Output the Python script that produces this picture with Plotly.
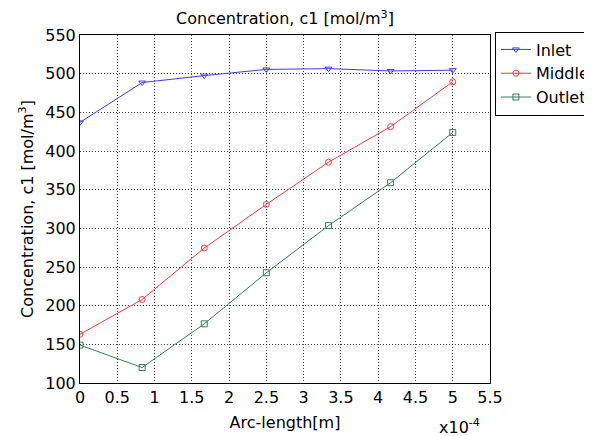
import plotly.graph_objects as go

arc_length = [0.0, 8.333e-5, 1.6667e-4, 2.5e-4, 3.3333e-4, 4.1667e-4, 5.0e-4]
inlet = [437, 488.5, 497.5, 505.5, 506.5, 503.5, 504.5]
middle = [163, 208, 274.5, 331, 385.5, 431.5, 489.5]
outlet = [149, 120, 176.5, 242.5, 303.5, 359, 424]

x_tickvals = [i * 0.5e-4 for i in range(12)]
x_ticktext = ["0", "0.5", "1", "1.5", "2", "2.5", "3", "3.5", "4", "4.5", "5", "5.5"]
y_tickvals = [100, 150, 200, 250, 300, 350, 400, 450, 500, 550]

FONT = "DejaVu Sans"

fig = go.Figure()
series = [
    ("Inlet", inlet, "#3b3bf5", "triangle-down-open"),
    ("Middle", middle, "#ff3b3b", "circle-open"),
    ("Outlet", outlet, "#2e8552", "square-open"),
]
for name, vals, col, sym in series:
    fig.add_trace(go.Scatter(
        x=arc_length, y=vals, name=name, mode="lines+markers",
        line=dict(color=col, width=1),
        marker=dict(symbol=sym, size=6, color=col, line=dict(color=col, width=1)),
    ))

# page body has an 8px default margin; canvas is shrunk so the plot lands where the reference has it
fig.update_layout(
    width=584, height=428,
    margin=dict(l=72, r=102, t=26.5, b=53, autoexpand=False),
    paper_bgcolor="white", plot_bgcolor="white",
    font=dict(family=FONT, size=16, color="black"),
    title=dict(text="Concentration, c1 [mol/m<sup>3</sup>]", xref="paper", x=0.5, xanchor="center",
               yref="container", y=0.975, yanchor="middle", font=dict(family=FONT, size=16, color="black")),
    showlegend=True,
    legend=dict(x=1.012, y=1.01, xanchor="left", yanchor="top",
                bordercolor="black", borderwidth=1, bgcolor="white",
                font=dict(family=FONT, size=16, color="black"),
                itemwidth=30, tracegroupgap=0),
)
fig.update_xaxes(
    range=[0, 5.5e-4], tickvals=x_tickvals, ticktext=x_ticktext,
    showgrid=True, gridcolor="rgba(0,0,0,0.7)", griddash="1px,2px", gridwidth=1,
    showline=True, linecolor="black", linewidth=1, mirror=True,
    ticks="", zeroline=False,
    tickfont=dict(family=FONT, size=16),
    title=dict(text="Arc-length[m]", font=dict(family=FONT, size=16), standoff=10),
)
fig.update_yaxes(
    range=[100, 550], tickvals=y_tickvals,
    showgrid=True, gridcolor="rgba(0,0,0,0.7)", griddash="1px,2px", gridwidth=1,
    showline=True, linecolor="black", linewidth=1, mirror=True,
    ticks="", zeroline=False,
    tickfont=dict(family=FONT, size=16),
    title=dict(text="Concentration, c1 [mol/m<sup>3</sup>]", font=dict(family=FONT, size=16), standoff=7),
)
fig.add_annotation(
    text="x10<sup>-4</sup>", xref="paper", yref="paper", x=0.925, y=-0.125,
    xanchor="center", yanchor="middle", showarrow=False,
    font=dict(family=FONT, size=16, color="black"),
)
fig.write_html("out.html")
